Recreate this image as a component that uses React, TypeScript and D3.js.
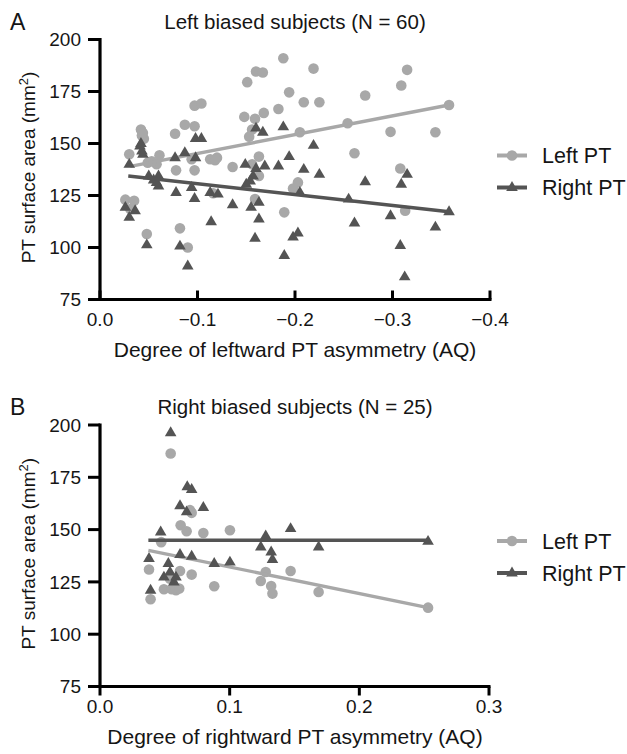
import React from 'react';
import * as d3 from 'd3';

type Pt = [number, number];

const FONT = '"Liberation Sans", Arial, Helvetica, sans-serif';
const LIGHT = '#a8a8a8';
const DARK = '#545454';

// Panel A: left biased subjects (AQ, PT surface area mm2)
const leftPtA: Pt[] = [
  [-0.188, 191], [-0.219, 186], [-0.16, 184.6], [-0.167, 184.1], [-0.151, 179.5],
  [-0.194, 174.6], [-0.272, 173.1], [-0.097, 168.2], [-0.104, 169.2], [-0.209, 169.8],
  [-0.225, 169.8], [-0.183, 166.6], [-0.168, 164.7], [-0.148, 162.8], [-0.159, 161.9],
  [-0.087, 159], [-0.097, 158.3], [-0.077, 154.7], [-0.042, 156.7], [-0.043, 153.9],
  [-0.045, 152.3], [-0.156, 156.7], [-0.153, 153.3], [-0.205, 155.4], [-0.254, 159.7],
  [-0.03, 144.8], [-0.061, 144.3], [-0.049, 140.8], [-0.058, 140], [-0.094, 142.4],
  [-0.113, 142.4], [-0.12, 143.2], [-0.163, 143.7], [-0.136, 138.7], [-0.156, 140],
  [-0.078, 137.1], [-0.097, 137.1], [-0.163, 134.4], [-0.261, 145.3], [-0.203, 131.3],
  [-0.198, 128.4], [-0.026, 123], [-0.035, 122.5], [-0.031, 118.5], [-0.116, 126.1],
  [-0.159, 123.3], [-0.189, 116.9], [-0.048, 106.5], [-0.082, 109.2], [-0.09, 100],
  [-0.315, 185.4], [-0.309, 177.9], [-0.358, 168.5], [-0.298, 155.6], [-0.344, 155.4],
  [-0.308, 138], [-0.313, 117.7], [-0.053, 141.5], [-0.044, 155], [-0.118, 142],
];
const rightPtA: Pt[] = [
  [-0.188, 158], [-0.098, 152.4], [-0.104, 152.4], [-0.167, 155.4], [-0.16, 157.4],
  [-0.219, 149.1], [-0.041, 148.8], [-0.043, 146.4], [-0.044, 144.8], [-0.03, 140],
  [-0.06, 134.4], [-0.05, 134.4], [-0.058, 131.3], [-0.06, 129.6], [-0.077, 143.2],
  [-0.087, 145.6], [-0.098, 143.2], [-0.149, 140], [-0.16, 138], [-0.169, 139.2],
  [-0.183, 139.2], [-0.194, 143.7], [-0.209, 137.6], [-0.225, 135.2], [-0.157, 134.4],
  [-0.154, 132], [-0.15, 130.4], [-0.078, 126.5], [-0.094, 128.9], [-0.097, 123.6],
  [-0.113, 126.5], [-0.121, 125.7], [-0.136, 120.6], [-0.155, 119.3], [-0.163, 121.7],
  [-0.163, 113.7], [-0.114, 112.4], [-0.205, 126.5], [-0.03, 114.5], [-0.026, 119.3],
  [-0.036, 117.7], [-0.048, 101.3], [-0.082, 100.7], [-0.09, 91.1], [-0.159, 104.5],
  [-0.189, 96.2], [-0.198, 105], [-0.203, 107], [-0.315, 135.2], [-0.272, 131.6],
  [-0.309, 130.4], [-0.255, 123.3], [-0.298, 115.3], [-0.358, 117.2], [-0.261, 111.8],
  [-0.344, 109.8], [-0.308, 101], [-0.3125, 85.9], [-0.055, 132.5], [-0.042, 150],
];
const leftFitA: Pt[] = [[-0.031, 139], [-0.358, 168.5]];
const rightFitA: Pt[] = [[-0.029, 134.4], [-0.358, 117.2]];
const xTicksA = [0, -0.1, -0.2, -0.3, -0.4];

// Panel B: right biased subjects
const leftPtB: Pt[] = [
  [0.0545, 186.4], [0.0694, 159.3], [0.0707, 158], [0.0622, 152.1], [0.0668, 149.2],
  [0.0797, 148.4], [0.1002, 149.7], [0.0472, 144], [0.0378, 130.9], [0.0617, 130.2],
  [0.0707, 128.5], [0.054, 126.5], [0.0493, 121.5], [0.0553, 121.5], [0.0586, 121],
  [0.0611, 121.8], [0.039, 116.7], [0.0881, 122.9], [0.1278, 129.7], [0.124, 125.4],
  [0.132, 123], [0.133, 119.4], [0.147, 130.2], [0.1686, 120.2], [0.253, 112.7],
];
const rightPtB: Pt[] = [
  [0.0545, 196.3], [0.0673, 170.5], [0.0707, 169.2], [0.0617, 161.4], [0.0797, 160.6],
  [0.0668, 158.5], [0.0468, 148.9], [0.1278, 147], [0.147, 150.5], [0.124, 141.7],
  [0.132, 139.3], [0.133, 135.7], [0.1686, 141.7], [0.0617, 138.1], [0.0707, 137.3],
  [0.0881, 133.8], [0.1002, 134.5], [0.0378, 136.2], [0.0527, 133.8], [0.0493, 127.3],
  [0.0586, 127.3], [0.054, 129.7], [0.039, 121], [0.253, 144.4], [0.057, 125],
];
const leftFitB: Pt[] = [[0.0373, 140.1], [0.253, 112.7]];
const rightFitB: Pt[] = [[0.0373, 144.9], [0.253, 144.9]];
const xTicksB = [0, 0.1, 0.2, 0.3];

const yTicks = [75, 100, 125, 150, 175, 200];
const seriesNames = ['Left PT', 'Right PT'];

const tri = 'M0,-6.4L5.8,3.5L-5.8,3.5Z';

interface PanelProps {
  letter: string;
  title: string;
  xLabel: string;
  xDomain: [number, number];
  xTicks: number[];
  left: Pt[];
  right: Pt[];
  leftFit: Pt[];
  rightFit: Pt[];
  top: number; // y pixel of 200
  bottom: number; // y pixel of 75
  xEnd: number;
  tickUp: boolean;
}

const Panel = (p: PanelProps) => {
  const x = d3.scaleLinear().domain(p.xDomain).range([100, p.xEnd]);
  const y = d3.scaleLinear().domain([75, 200]).range([p.bottom, p.top]);
  const fmt = d3.format('.1f');
  const line = d3.line<Pt>().x(d => x(d[0])).y(d => y(d[1]));
  const tickLen = 9;
  const legendY = [p.top + 116, p.top + 148];
  const midY = (p.top + p.bottom) / 2;

  return (
    <g fontFamily={FONT} fill="#151515">
      <text x={10} y={p.top - 10} fontSize={23}>{p.letter}</text>
      <text x={295} y={p.top - 11} fontSize={20.5} textAnchor="middle">{p.title}</text>

      {/* y axis */}
      <line x1={100} x2={100} y1={p.top - 1.5} y2={p.bottom} stroke="#000" strokeWidth={3.2} />
      {yTicks.map(t => (
        <g key={t}>
          <line x1={88} x2={100} y1={y(t)} y2={y(t)} stroke="#000" strokeWidth={3} />
          <text x={81} y={y(t)} dy="0.35em" fontSize={19} textAnchor="end">{t}</text>
        </g>
      ))}
      <text
        transform={`translate(35,${midY - 2}) rotate(-90)`}
        fontSize={19}
        textAnchor="middle"
      >
        PT surface area (mm<tspan baselineShift="super" fontSize={13}>2</tspan>)
      </text>

      {/* x axis */}
      <line x1={88} x2={p.xEnd + 1.5} y1={p.bottom} y2={p.bottom} stroke="#000" strokeWidth={3.2} />
      {p.xTicks.map(t => (
        <g key={t}>
          <line
            x1={x(t)}
            x2={x(t)}
            y1={p.bottom}
            y2={p.tickUp ? p.bottom - tickLen : p.bottom + tickLen}
            stroke="#000"
            strokeWidth={3}
          />
          <text x={x(t)} y={p.bottom + 26} fontSize={19} textAnchor="middle">{fmt(t)}</text>
        </g>
      ))}
      <text x={295} y={p.bottom + 57} fontSize={21} textAnchor="middle">{p.xLabel}</text>

      {/* data */}
      {p.left.map((d, i) => (
        <circle key={'l' + i} cx={x(d[0])} cy={y(d[1])} r={5.3} fill={LIGHT} />
      ))}
      <path d={line(p.leftFit) as string} stroke={LIGHT} strokeWidth={3.4} fill="none" />
      {p.right.map((d, i) => (
        <path key={'r' + i} d={tri} transform={`translate(${x(d[0])},${y(d[1])})`} fill={DARK} />
      ))}
      <path d={line(p.rightFit) as string} stroke={DARK} strokeWidth={3.4} fill="none" />

      {/* legend */}
      {seriesNames.map((name, i) => (
        <g key={name} transform={`translate(512,${legendY[i]})`}>
          <line x1={-15} x2={15} y1={0} y2={0} stroke={i === 0 ? LIGHT : DARK} strokeWidth={4} />
          {i === 0 ? (
            <circle r={5.3} fill={LIGHT} />
          ) : (
            <path d={tri} fill={DARK} />
          )}
          <text x={30} y={0} dy="0.36em" fontSize={21.5}>{name}</text>
        </g>
      ))}
    </g>
  );
};

export default function App() {
  return (
    <svg
      width={627}
      height={754}
      style={{ position: 'absolute', left: 0, top: 0, background: '#fff' }}
    >
      <Panel
        letter="A"
        title="Left biased subjects (N = 60)"
        xLabel="Degree of leftward PT asymmetry (AQ)"
        xDomain={[0, -0.4]}
        xTicks={xTicksA}
        left={leftPtA}
        right={rightPtA}
        leftFit={leftFitA}
        rightFit={rightFitA}
        top={39.5}
        bottom={299.5}
        xEnd={490}
        tickUp={true}
      />
      <Panel
        letter="B"
        title="Right biased subjects (N = 25)"
        xLabel="Degree of rightward PT asymmetry (AQ)"
        xDomain={[0, 0.3]}
        xTicks={xTicksB}
        left={leftPtB}
        right={rightPtB}
        leftFit={leftFitB}
        rightFit={rightFitB}
        top={425}
        bottom={686.5}
        xEnd={489}
        tickUp={false}
      />
    </svg>
  );
}
